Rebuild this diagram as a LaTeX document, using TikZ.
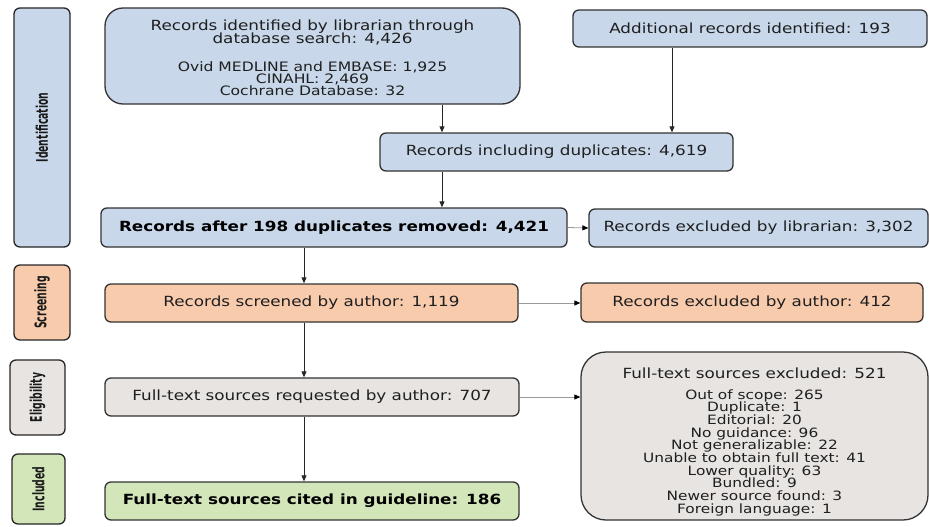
\documentclass[tikz,border=0pt]{standalone}
\usepackage{fontspec}
\setmainfont{DejaVu Sans}[FakeStretch=1.2]
\newfontfamily\sidefont{DejaVu Sans}[FakeStretch=0.58]
\usetikzlibrary{arrows.meta}

\definecolor{idblue}{RGB}{200,216,234}
\definecolor{scrorange}{RGB}{248,203,173}
\definecolor{eliggray}{RGB}{231,228,226}
\definecolor{incgreen}{RGB}{211,230,185}

\newcommand\tightlines{\lineskiplimit-20pt\relax}

\begin{document}
\begin{tikzpicture}[x=1pt,y=-1pt,
  phase/.style={draw=black!85,line width=1.3pt,rounded corners=6pt,rotate=90,text=black!90,
    font=\sidefont\bfseries\fontsize{16}{16}\selectfont},
  stepbox/.style={draw=black!80,line width=1.3pt,rounded corners=6pt,align=center,text=black!88,
    inner sep=2pt,font=\fontsize{14}{13}\selectfont\tightlines},
  arc/.style={-{Triangle[length=6pt,width=5pt]},draw=black!85,line width=.8pt},
  side/.style={-{Triangle[length=6pt,width=5pt,color=black]},draw=black!40,line width=.8pt}
]
\useasboundingbox (0,0) rectangle (929,527);

% phases
\node[phase,fill=idblue,minimum width=239pt,minimum height=56pt] (ident) at (42,127.5) {Identification};
\node[phase,fill=scrorange,minimum width=75pt,minimum height=56pt] (screen) at (42,302.5) {Screening};
\node[phase,fill=eliggray,minimum width=75pt,minimum height=55pt] (elig) at (37.5,397.5) {Eligibility};
\node[phase,fill=incgreen,minimum width=70pt,minimum height=53pt] (incl) at (38.5,489) {Included};

% identification
\node[stepbox,fill=idblue,rounded corners=18pt,minimum width=415pt,minimum height=96pt] (search) at (312.5,56)
  {\rule{0pt}{14pt}Records identified by librarian through\\database search: 4,426\\[15pt]
   {\fontsize{13}{12}\selectfont Ovid MEDLINE and EMBASE: 1,925}\\[-1pt]
   {\fontsize{13}{12}\selectfont CINAHL: 2,469}\\[-1pt]
   {\fontsize{13}{12}\selectfont Cochrane Database: 32}};
\node[stepbox,fill=idblue,minimum width=354pt,minimum height=37pt] (extra) at (750,28.5)
  {Additional records identified: 193};
\node[stepbox,fill=idblue,minimum width=353pt,minimum height=38pt] (dups) at (556.5,152)
  {Records including duplicates: 4,619};
\node[stepbox,fill=idblue,minimum width=466pt,minimum height=39pt,text=black,font=\bfseries\fontsize{14}{14}\selectfont] (dedup) at (334,227.5)
  {Records after 198 duplicates removed: 4,421};
\node[stepbox,fill=idblue,minimum width=339pt,minimum height=38pt] (exlib) at (758.5,228)
  {Records excluded by librarian: 3,302};

% screening
\node[stepbox,fill=scrorange,minimum width=413pt,minimum height=38pt] (screened) at (311.5,303)
  {Records screened by author: 1,119};
\node[stepbox,fill=scrorange,minimum width=342pt,minimum height=39pt] (exauth) at (752,302.5)
  {Records excluded by author: 412};

% eligibility
\node[stepbox,fill=eliggray,minimum width=414pt,minimum height=38pt] (request) at (312,397)
  {Full-text sources requested by author: 707};
\node[stepbox,fill=eliggray,rounded corners=25pt,minimum width=347pt,minimum height=168pt] (exfull) at (754.5,436)
  {\rule{0pt}{22pt}Full-text sources excluded: 521\\[8pt]
   {\fontsize{12.8}{12.7}\selectfont Out of scope: 265}\\[-0.3pt]
   {\fontsize{12.8}{12.7}\selectfont Duplicate: 1}\\[-0.3pt]
   {\fontsize{12.8}{12.7}\selectfont Editorial: 20}\\[-0.3pt]
   {\fontsize{12.8}{12.7}\selectfont No guidance: 96}\\[-0.3pt]
   {\fontsize{12.8}{12.7}\selectfont Not generalizable: 22}\\[-0.3pt]
   {\fontsize{12.8}{12.7}\selectfont Unable to obtain full text: 41}\\[-0.3pt]
   {\fontsize{12.8}{12.7}\selectfont Lower quality: 63}\\[-0.3pt]
   {\fontsize{12.8}{12.7}\selectfont Bundled: 9}\\[-0.3pt]
   {\fontsize{12.8}{12.7}\selectfont Newer source found: 3}\\[-0.3pt]
   {\fontsize{12.8}{12.7}\selectfont Foreign language: 1}};

% included
\node[stepbox,fill=incgreen,minimum width=414pt,minimum height=38pt,text=black,font=\bfseries\fontsize{14}{14}\selectfont] (cited) at (312,501)
  {Full-text sources cited in guideline: 186};

\coordinate (colA) at (442,0);
\coordinate (colB) at (672,0);
\coordinate (colM) at (304,0);

\draw[arc] (search.south -| colA) -- (dups.north -| colA);
\draw[arc] (extra.south -| colB) -- (dups.north -| colB);
\draw[arc] (dups.south -| colA) -- (dedup.north -| colA);
\draw[arc] (dedup.south -| colM) -- (screened.north -| colM);
\draw[arc] (screened.south -| colM) -- (request.north -| colM);
\draw[arc] (request.south -| colM) -- (cited.north -| colM);

\draw[side] (dedup.east) -- (exlib.west);
\draw[side] (screened.east) -- (screened.east -| exauth.west);
\draw[side] (request.east) -- (request.east -| exfull.west);
\end{tikzpicture}
\end{document}
